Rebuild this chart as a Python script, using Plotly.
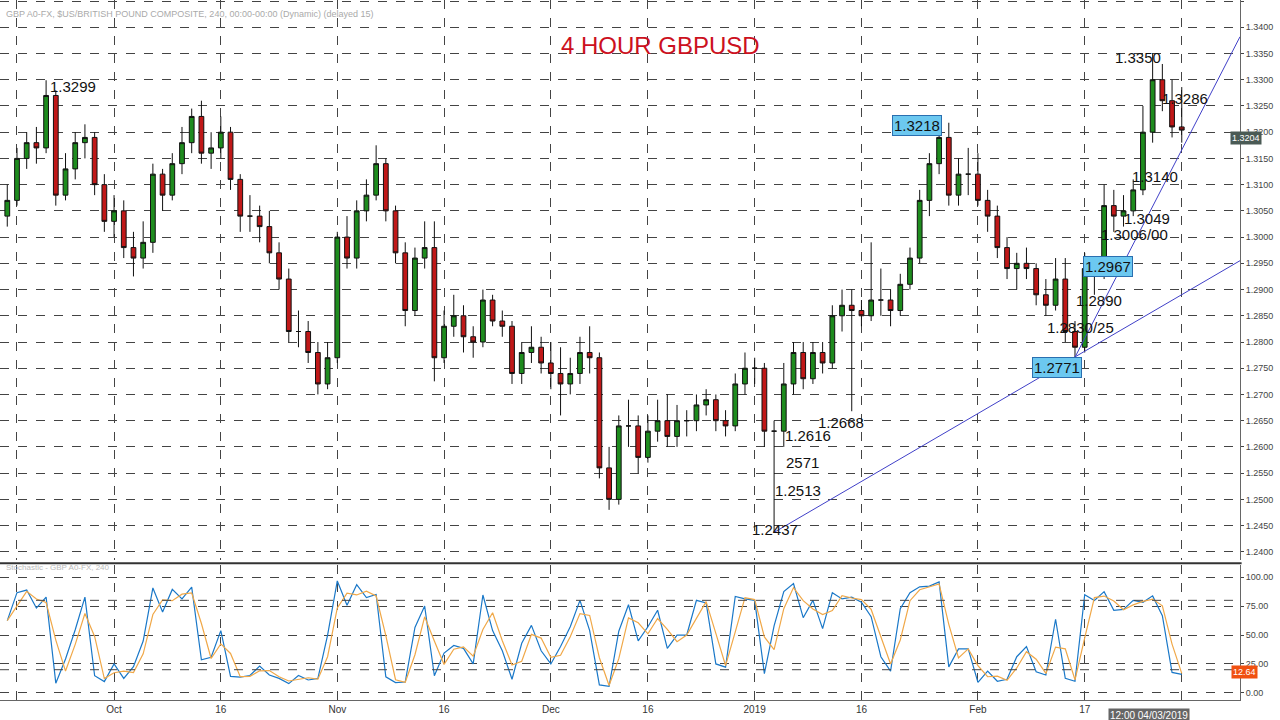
import plotly.graph_objects as go
import pandas as pd

dates = pd.bdate_range("2018-09-14", "2019-03-04")

opens = [1.3040,1.3070,1.3150,1.3180,1.3170,1.3270,1.3080,1.3130,1.3180,1.3190,1.3100,
 1.3030,1.3050,1.2980,1.2960,1.2990,1.3120,1.3080,1.3140,1.3180,1.3230,1.3160,1.3170,1.3200,1.3110,1.3040,1.3040,1.3020,1.2970,1.2920,1.2820,1.2820,1.2780,1.2720,
 1.2770,1.3000,1.2960,1.3050,1.3080,1.3140,1.3050,1.2970,1.2860,1.2960,1.2980,1.2770,1.2830,1.2850,1.2810,1.2800,1.2880,1.2840,1.2830,1.2740,1.2780,1.2790,
 1.2760,1.2740,1.2720,1.2740,1.2780,1.2770,1.2560,1.2500,1.2640,1.2640,1.2580,1.2630,1.2650,1.2620,1.2650,1.2650,1.2680,1.2690,1.2650,1.2640,1.2720,
 1.2750,1.2750,1.2630,1.2630,1.2720,1.2780,1.2730,1.2780,1.2760,1.2850,1.2870,1.2860,1.2850,1.2880,1.2880,1.2860,1.2910,1.2960,1.3070,1.3140,1.3190,1.3080,1.3120,
 1.3120,1.3070,1.3040,1.2980,1.2940,1.2950,1.2940,1.2890,1.2870,1.2920,1.2820,1.2790,1.2940,1.2930,1.3060,1.3040,1.3050,1.3090,1.3200,1.3300,
 1.3260,1.3210]
closes = [1.3070,1.3150,1.3180,1.3170,1.3270,1.3080,1.3130,1.3180,1.3190,1.3100,1.3030,
 1.3050,1.2980,1.2960,1.2990,1.3120,1.3080,1.3140,1.3180,1.3230,1.3160,1.3170,1.3200,1.3110,1.3040,1.3040,1.3020,1.2970,1.2920,1.2820,1.2820,1.2780,1.2720,1.2770,
 1.3000,1.2960,1.3050,1.3080,1.3140,1.3050,1.2970,1.2860,1.2960,1.2980,1.2770,1.2830,1.2850,1.2810,1.2800,1.2880,1.2840,1.2830,1.2740,1.2780,1.2790,1.2760,
 1.2740,1.2720,1.2740,1.2780,1.2770,1.2560,1.2500,1.2640,1.2640,1.2580,1.2630,1.2650,1.2620,1.2650,1.2650,1.2680,1.2690,1.2650,1.2640,1.2720,1.2750,
 1.2750,1.2630,1.2630,1.2720,1.2780,1.2730,1.2780,1.2760,1.2850,1.2870,1.2860,1.2850,1.2880,1.2880,1.2860,1.2910,1.2960,1.3070,1.3140,1.3190,1.3080,1.3120,1.3120,
 1.3070,1.3040,1.2980,1.2940,1.2950,1.2940,1.2890,1.2870,1.2920,1.2820,1.2790,1.2940,1.2930,1.3060,1.3040,1.3050,1.3090,1.3200,1.3300,1.3260,
 1.3210,1.3204]
highs = [1.3100,1.3170,1.3200,1.3210,1.3299,1.3280,1.3160,1.3200,1.3215,1.3200,1.3120,
 1.3080,1.3070,1.3010,1.3030,1.3140,1.3130,1.3160,1.3210,1.3245,1.3260,1.3200,1.3230,1.3210,1.3120,1.3080,1.3060,1.3050,1.2990,1.2940,1.2860,1.2840,1.2800,1.2800,
 1.3010,1.3040,1.3070,1.3110,1.3175,1.3150,1.3060,1.2990,1.2980,1.3030,1.3030,1.2860,1.2890,1.2870,1.2830,1.2900,1.2890,1.2860,1.2840,1.2800,1.2830,1.2810,
 1.2800,1.2790,1.2770,1.2810,1.2830,1.2780,1.2600,1.2660,1.2690,1.2660,1.2660,1.2690,1.2700,1.2680,1.2670,1.2700,1.2710,1.2700,1.2670,1.2740,1.2780,
 1.2770,1.2760,1.2650,1.2760,1.2800,1.2800,1.2800,1.2800,1.2870,1.2900,1.2900,1.2880,1.2990,1.2940,1.2900,1.2930,1.2980,1.3090,1.3160,1.3200,1.3218,1.3150,1.3170,
 1.3160,1.3090,1.3060,1.3000,1.2970,1.2980,1.2950,1.2920,1.2960,1.2960,1.2840,1.2970,1.2960,1.3100,1.3090,1.3080,1.3110,1.3250,1.3350,1.3330,
 1.3300,1.3286]
lows = [1.3020,1.3060,1.3130,1.3140,1.3160,1.3060,1.3070,1.3110,1.3150,1.3080,1.3010,
 1.3000,1.2960,1.2925,1.2940,1.2970,1.3050,1.3070,1.3120,1.3160,1.3140,1.3130,1.3150,1.3090,1.3010,1.3010,1.2990,1.2950,1.2900,1.2800,1.2790,1.2760,1.2700,1.2710,
 1.2760,1.2940,1.2940,1.3030,1.3070,1.3030,1.2950,1.2830,1.2850,1.2940,1.2725,1.2760,1.2810,1.2780,1.2770,1.2790,1.2830,1.2810,1.2720,1.2720,1.2760,1.2740,
 1.2710,1.2660,1.2700,1.2720,1.2740,1.2540,1.2480,1.2490,1.2600,1.2550,1.2570,1.2610,1.2600,1.2600,1.2620,1.2630,1.2660,1.2630,1.2620,1.2630,1.2700,
 1.2720,1.2600,1.2437,1.2600,1.2700,1.2710,1.2720,1.2740,1.2750,1.2820,1.2668,1.2830,1.2840,1.2850,1.2830,1.2850,1.2900,1.2950,1.3040,1.3120,1.3060,1.3060,1.3080,
 1.3060,1.3010,1.2960,1.2920,1.2900,1.2920,1.2870,1.2850,1.2860,1.2800,1.2771,1.2780,1.2890,1.2920,1.3010,1.3020,1.3040,1.3080,1.3180,1.3240,
 1.3190,1.3180]

tick_dates = ["2018-09-17","2018-10-01","2018-10-16","2018-11-01","2018-11-16","2018-12-03",
              "2018-12-17","2019-01-01","2019-01-16","2019-02-01","2019-02-18","2019-03-04"]
tick_text = ["","Oct","16","Nov","16","Dec","16","2019","16","Feb","17",""]
price_ticks = [round(1.2400 + 0.005 * i, 4) for i in range(22)]
price_text = ["%.4f" % v for v in price_ticks]
stoch_ticks = [0, 25, 50, 75, 100]
stoch_text = ["%.2f" % v for v in stoch_ticks]

# stochastic oscillator (period 3, %D = 2-period mean)
s = pd.DataFrame({"h": highs, "l": lows, "c": closes}, index=dates)
hh = s["h"].rolling(3, min_periods=1).max()
ll = s["l"].rolling(3, min_periods=1).min()
k = (s["c"] - ll) / (hh - ll) * 100
d = k.rolling(2, min_periods=1).mean()

fig = go.Figure()
fig.add_trace(go.Candlestick(x=dates, open=opens, high=highs, low=lows, close=closes,
    increasing=dict(line=dict(color="#111", width=1), fillcolor="#1e8c1e"),
    decreasing=dict(line=dict(color="#111", width=1), fillcolor="#c01818"),
    whiskerwidth=0, xaxis="x", yaxis="y", showlegend=False))
fig.add_trace(go.Scatter(x=dates, y=k, mode="lines", line=dict(color="#1a78c8", width=1.2),
    xaxis="x2", yaxis="y2", showlegend=False))
fig.add_trace(go.Scatter(x=dates, y=d, mode="lines", line=dict(color="#f0a848", width=1.2),
    xaxis="x2", yaxis="y2", showlegend=False))

xr = ["2018-09-13 06:00", "2019-03-12"]
rb = [dict(bounds=["sat", "mon"])]
grid = dict(showgrid=True, gridcolor="#444", griddash="dash", gridwidth=1, automargin=False)
fig.update_layout(
    width=1280, height=720, margin=dict(l=0, r=0, t=0, b=16, autoexpand=False),
    plot_bgcolor="white", paper_bgcolor="white",
    font=dict(family="Arial, Liberation Sans", color="#222"),
    xaxis=dict(domain=[0, 0.96875], range=xr, rangebreaks=rb, rangeslider=dict(visible=False),
               tickvals=tick_dates, showticklabels=False, anchor="y", **grid,
               showline=False, zeroline=False),
    yaxis=dict(domain=[0.205, 1], range=[1.2385, 1.3452], side="right", anchor="x",
               tickvals=price_ticks, ticktext=price_text, tickfont=dict(size=9, color="#444"),
               ticks="outside", ticklen=3, showline=True, linecolor="#666", **grid),
    xaxis2=dict(domain=[0, 0.96875], range=xr, rangebreaks=rb, anchor="y2",
                tickvals=tick_dates, ticktext=tick_text, tickfont=dict(size=10, color="#333"),
                **grid, showline=True, linecolor="#666", zeroline=False),
    yaxis2=dict(domain=[0.006, 0.197], range=[-6, 110.3], side="right", anchor="x2",
                tickvals=stoch_ticks, ticktext=stoch_text, tickfont=dict(size=9, color="#444"),
                ticks="outside", ticklen=3, showline=True, linecolor="#666", **grid, zeroline=False),
)
for lvl in [20, 80]:
    fig.add_shape(type="line", xref="x2 domain", yref="y2", x0=0, x1=1, y0=lvl, y1=lvl,
                  line=dict(color="#444", width=1, dash="dash"))
fig.add_shape(type="line", xref="paper", yref="paper", x0=0, x1=0.97, y0=0.2, y1=0.2,
              line=dict(color="#333", width=2))
fig.add_shape(type="line", xref="x", yref="y", x0="2019-01-03", y0=1.2437, x1=xr[1], y1=1.2955,
              line=dict(color="#4040c8", width=1))
fig.add_shape(type="line", xref="x", yref="y", x0="2019-02-15", y0=1.2771, x1=xr[1], y1=1.3382,
              line=dict(color="#4040c8", width=1))

labels = [("1.3299", 48, 76, False), ("1.3218", 942, 115, True), ("1.3350", 1163, 47, False),
          ("1.3286", 1210, 88, False), ("1.3140", 1180, 166, False), ("1.3049", 1172, 208, False),
          ("1.3006/00", 1170, 235, False), ("1.2967", 1133, 266, True), ("1.2890", 1124, 301, False),
          ("1.2830/25", 1116, 327, False), ("1.2771", 1082, 367, True), ("1.2668", 866, 422, False),
          ("1.2616", 808, 436, False), ("2571", 802, 462, False), ("1.2513", 798, 501, False),
          ("1.2437", 775, 540, False)]
for t, px, py, box in labels:
    kw = dict(bgcolor="#6cc8f0", bordercolor="#2a6fb0", borderwidth=1, borderpad=1) if box else {}
    fig.add_annotation(text=t, xref="paper", yref="paper", x=px / 1280, y=1 - py / 704,
                       showarrow=False, font=dict(size=15, color="#111"), **kw)

fig.add_annotation(text="4 HOUR GBPUSD", xref="paper", yref="paper", x=660 / 1280, y=1 - 30 / 704,
                   showarrow=False, font=dict(size=24, color="#cc1020"))
fig.add_annotation(text="GBP A0-FX, $US/BRITISH POUND COMPOSITE, 240, 00:00-00:00 (Dynamic) (delayed 15)",
                   xref="paper", yref="paper", x=0.003, y=1 - 7 / 704, xanchor="left",
                   showarrow=False, font=dict(size=9, color="#aaa"))
fig.add_annotation(text="Stochastic - GBP A0-FX, 240", xref="paper", yref="paper", x=0.003,
                   y=1 - 574 / 704, xanchor="left", showarrow=False, font=dict(size=8, color="#bbb"))
fig.add_annotation(text="1.3204", xref="paper", yref="paper", x=1262 / 1280, y=1 - 131 / 704,
                   showarrow=False, bgcolor="#4a5a55", font=dict(size=9, color="white"), borderpad=1)
fig.add_annotation(text="12.64", xref="paper", yref="paper", x=1258 / 1280, y=1 - 679 / 704,
                   showarrow=False, bgcolor="#f05010", font=dict(size=9, color="white"), borderpad=1)
fig.add_annotation(text="12:00 04/03/2019", xref="paper", yref="paper", x=1190 / 1280, y=-0.006,
                   yanchor="top", showarrow=False, bgcolor="#666", font=dict(size=10, color="white"))

fig.write_html("out.html", config={"displayModeBar": False},
               post_script="document.body.style.margin='0';document.body.style.overflow='hidden';")
